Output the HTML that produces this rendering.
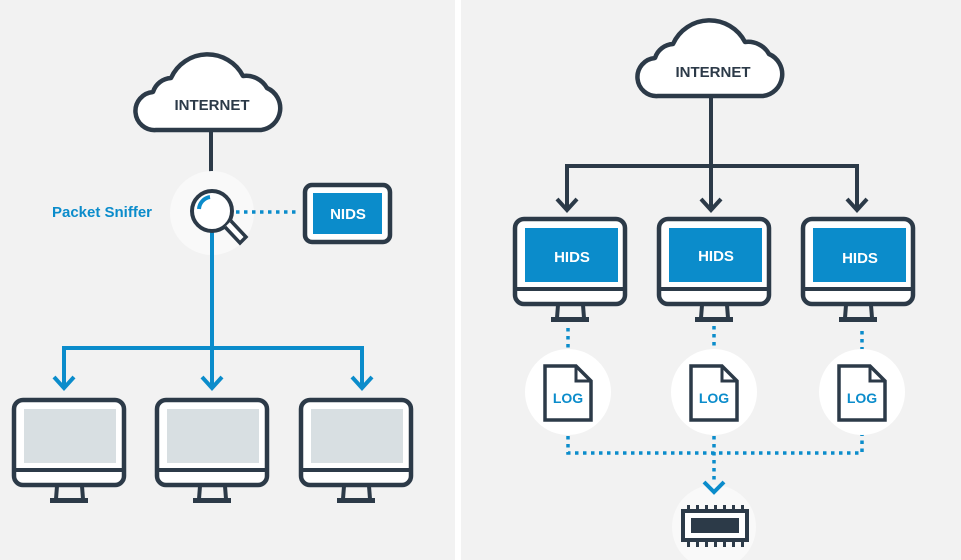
<!DOCTYPE html>
<html><head><meta charset="utf-8"><style>
html,body{margin:0;padding:0;background:#f2f2f2;}
svg{display:block;}
text{font-family:"Liberation Sans",sans-serif;font-weight:bold;}
</style></head><body>
<svg width="961" height="560" viewBox="0 0 961 560" xmlns="http://www.w3.org/2000/svg">
<defs>
<g id="cloud">
<path d="M25,90 H130 A22,22 0 0 0 136,48 A24,24 0 0 0 112,36 A40,40 0 0 0 40,38 A20,20 0 0 0 22,52 A19,19 0 0 0 25,90 Z" fill="#fff" stroke="#2c3a48" stroke-width="4.5" stroke-linejoin="round"/>
</g>
<g id="mon">
<rect x="2" y="2" width="110" height="85" rx="9" fill="#fff" stroke="#2c3a48" stroke-width="4.5"/>
<line x1="2" y1="72" x2="112" y2="72" stroke="#2c3a48" stroke-width="4"/>
<path d="M45,88 L44,101 M70,88 L71,101" stroke="#2c3a48" stroke-width="4"/>
<rect x="38" y="100" width="38" height="5" fill="#2c3a48"/>
</g>
<g id="log">
<circle cx="0" cy="0" r="43" fill="#fff"/>
<path d="M-23,-26 H8 L23,-11 V28 H-23 Z" fill="#fff" stroke="#2c3a48" stroke-width="3.5" stroke-linejoin="miter"/>
<path d="M8,-26 V-11 H23" fill="none" stroke="#2c3a48" stroke-width="3"/>
<text x="0" y="11" font-size="14" fill="#0b8ccb" text-anchor="middle">LOG</text>
</g>
</defs>
<rect x="455" y="0" width="6" height="560" fill="#fff"/>

<!-- LEFT -->
<line x1="211" y1="130" x2="211" y2="192" stroke="#2c3a48" stroke-width="4"/>
<use href="#cloud" x="131" y="40"/>
<text x="212" y="110" font-size="15" fill="#2c3a48" text-anchor="middle">INTERNET</text>
<circle cx="212" cy="213" r="42" fill="#f9f9f9"/>
<line x1="212" y1="232" x2="212" y2="387" stroke="#0b8ccb" stroke-width="4"/>
<path d="M64,386 V348 H362 V386" fill="none" stroke="#0b8ccb" stroke-width="4"/>
<path d="M54,377 L64,388 L74,377 M202,377 L212,388 L222,377 M352,377 L362,388 L372,377" fill="none" stroke="#0b8ccb" stroke-width="4"/>
<circle cx="212" cy="211" r="20" fill="#fff" stroke="#2c3a48" stroke-width="4"/>
<path d="M199,209 A13,13 0 0 1 210,197" fill="none" stroke="#0b8ccb" stroke-width="4"/>
<path d="M225,227 L240,243 L246,237 L231,221" fill="#fff" stroke="#2c3a48" stroke-width="3.5"/>
<line x1="236" y1="212" x2="300" y2="212" stroke="#0b8ccb" stroke-width="3.5" stroke-dasharray="3.5 4.5"/>
<text x="102" y="217" font-size="15" fill="#0b8ccb" text-anchor="middle">Packet Sniffer</text>
<rect x="305" y="185" width="85" height="57" rx="7" fill="#fff" stroke="#2c3a48" stroke-width="4.5"/>
<rect x="313" y="193" width="69" height="41" fill="#0b8ccb"/>
<text x="348" y="219" font-size="15" fill="#fff" text-anchor="middle">NIDS</text>
<use href="#mon" x="12" y="398"/><rect x="24" y="409" width="92" height="54" fill="#d8dfe2"/>
<use href="#mon" x="155" y="398"/><rect x="167" y="409" width="92" height="54" fill="#d8dfe2"/>
<use href="#mon" x="299" y="398"/><rect x="311" y="409" width="92" height="54" fill="#d8dfe2"/>

<!-- RIGHT -->
<line x1="711" y1="95" x2="711" y2="166" stroke="#2c3a48" stroke-width="4"/>
<use href="#cloud" x="633" y="6"/>
<text x="713" y="77" font-size="15" fill="#2c3a48" text-anchor="middle">INTERNET</text>
<path d="M567,210 V166 H857 V210 M711,166 V210" fill="none" stroke="#2c3a48" stroke-width="4"/>
<path d="M557,199 L567,210 L577,199 M701,199 L711,210 L721,199 M847,199 L857,210 L867,199" fill="none" stroke="#2c3a48" stroke-width="4"/>
<use href="#mon" x="513" y="217"/><rect x="525" y="228" width="93" height="54" fill="#0b8ccb"/>
<text x="572" y="262" font-size="15" fill="#fff" text-anchor="middle">HIDS</text>
<use href="#mon" x="657" y="217"/><rect x="669" y="228" width="93" height="54" fill="#0b8ccb"/>
<text x="716" y="261" font-size="15" fill="#fff" text-anchor="middle">HIDS</text>
<use href="#mon" x="801" y="217"/><rect x="813" y="228" width="93" height="54" fill="#0b8ccb"/>
<text x="860" y="263" font-size="15" fill="#fff" text-anchor="middle">HIDS</text>
<g stroke="#0b8ccb" stroke-width="3.5" stroke-dasharray="3.5 4.5" fill="none">
<path d="M568,328 V370 M714,326 V370 M862,331 V370"/>
<path d="M568,420 V453 H862 V420 M714,420 V482"/>
</g>
<use href="#log" x="568" y="392"/>
<use href="#log" x="714" y="392"/>
<use href="#log" x="862" y="392"/>
<circle cx="714" cy="527" r="42" fill="#f9f9f9"/>
<path d="M704,482 L714,492 L724,482" fill="none" stroke="#0b8ccb" stroke-width="4"/>
<g fill="#2c3a48">
<rect x="683" y="511" width="64" height="29" fill="#fff" stroke="#2c3a48" stroke-width="4"/>
<rect x="691" y="518" width="48" height="15"/>
<path d="M687,505 h3 v6 h-3z M696,505 h3 v6 h-3z M705,505 h3 v6 h-3z M714,505 h3 v6 h-3z M723,505 h3 v6 h-3z M732,505 h3 v6 h-3z M741,505 h3 v6 h-3z"/>
<path d="M687,540 h3 v7 h-3z M696,540 h3 v7 h-3z M705,540 h3 v7 h-3z M714,540 h3 v7 h-3z M723,540 h3 v7 h-3z M732,540 h3 v7 h-3z M741,540 h3 v7 h-3z"/>
</g>
</svg>
</body></html>
